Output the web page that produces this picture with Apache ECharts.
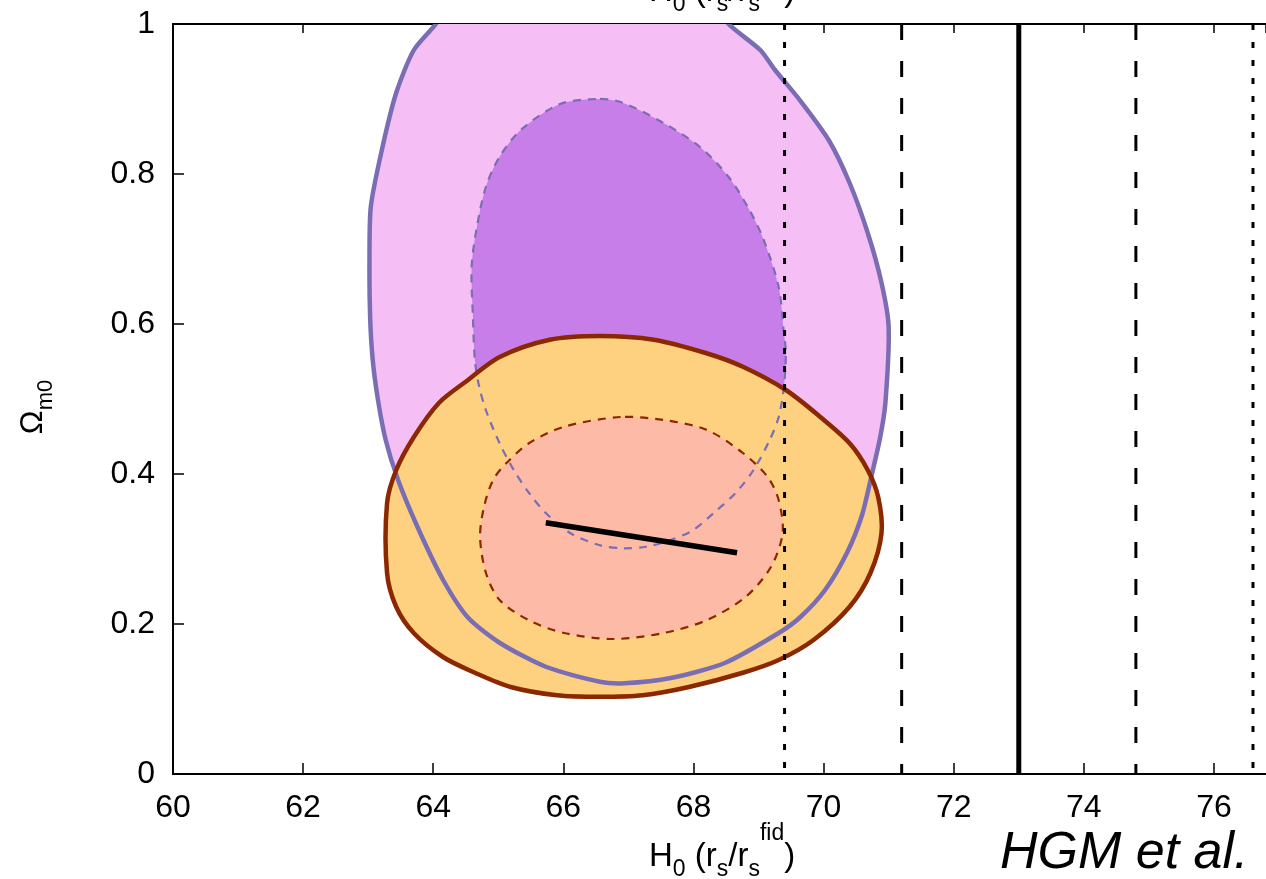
<!DOCTYPE html>
<html>
<head>
<meta charset="utf-8">
<script src="https://cdn.jsdelivr.net/npm/echarts@6/dist/echarts.min.js"></script>
<style>
  html, body { margin: 0; padding: 0; background: #ffffff; }
  #chart { width: 1266px; height: 879px; }
</style>
</head>
<body>
<div id="chart"></div>
<script>
// Axis ranges and tick steps
const H0_RANGE = [60, 76.8];
const OMEGA_RANGE = [0, 1];
const H0_STEP = 2;
const OMEGA_STEP = 0.2;

// Confidence regions, [H0, Omega_m0] pairs (the outer purple one runs past the top edge)
const purple95 = [
  [64.25, 1.030], [64.04, 1.000], [63.70, 0.965], [63.43, 0.908], [63.21, 0.832], [63.04, 0.756],
  [63.02, 0.680], [63.03, 0.609], [63.07, 0.552], [63.15, 0.499], [63.27, 0.445],
  [63.46, 0.392], [63.76, 0.329], [64.15, 0.259], [64.53, 0.209], [65.02, 0.175],
  [65.73, 0.143], [66.56, 0.123], [66.94, 0.121], [67.65, 0.128], [68.48, 0.148],
  [69.31, 0.188], [69.64, 0.209], [70.02, 0.245], [70.36, 0.295], [70.59, 0.345],
  [70.74, 0.399], [70.87, 0.449], [70.95, 0.495], [71.00, 0.596], [70.89, 0.655],
  [70.68, 0.721], [70.40, 0.788], [70.08, 0.845], [69.63, 0.899], [69.25, 0.939],
  [69.03, 0.965], [68.54, 1.000], [68.30, 1.030]
];
const purple68 = [
  [66.50, 0.900], [65.94, 0.893], [65.35, 0.859], [65.02, 0.823], [64.81, 0.783],
  [64.67, 0.729], [64.59, 0.676], [64.61, 0.609], [64.64, 0.552], [64.70, 0.519],
  [64.81, 0.485], [65.02, 0.441], [65.24, 0.405], [65.47, 0.375], [65.73, 0.348],
  [66.11, 0.321], [66.56, 0.305], [66.91, 0.301], [67.27, 0.303], [67.65, 0.312],
  [67.99, 0.325], [68.31, 0.348], [68.65, 0.375], [68.92, 0.405], [69.17, 0.445],
  [69.31, 0.476], [69.39, 0.516], [69.42, 0.561], [69.39, 0.588], [69.31, 0.649],
  [69.08, 0.712], [68.86, 0.752], [68.54, 0.796], [68.10, 0.836], [67.54, 0.868],
  [66.88, 0.896]
];
const orange95 = [
  [66.56, 0.584], [65.79, 0.579], [65.02, 0.556], [64.53, 0.525], [64.09, 0.495],
  [63.70, 0.449], [63.43, 0.405], [63.29, 0.361], [63.29, 0.268], [63.43, 0.223],
  [63.70, 0.188], [64.15, 0.156], [64.64, 0.135], [65.19, 0.116], [65.90, 0.105],
  [66.56, 0.103], [67.22, 0.105], [67.93, 0.116], [68.76, 0.135], [69.31, 0.152],
  [69.85, 0.179], [70.40, 0.223], [70.72, 0.268], [70.89, 0.321], [70.84, 0.369],
  [70.68, 0.405], [70.40, 0.441], [69.95, 0.476], [69.42, 0.512], [68.76, 0.543],
  [68.20, 0.561], [67.39, 0.579]
];
const orange68 = [
  [66.88, 0.476], [66.01, 0.463], [65.47, 0.441], [65.13, 0.415], [64.92, 0.392],
  [64.78, 0.356], [64.72, 0.316], [64.81, 0.268], [65.02, 0.232], [65.47, 0.205],
  [66.01, 0.188], [66.77, 0.180], [67.54, 0.188], [68.20, 0.205], [68.80, 0.236],
  [69.19, 0.276], [69.37, 0.321], [69.31, 0.365], [69.14, 0.396], [68.76, 0.428],
  [68.20, 0.459], [67.54, 0.472]
];

// Degeneracy segment
const segment = [[65.73, 0.335], [68.67, 0.295]];

// Local H0 measurement: central value with 1 and 2 sigma bounds
const localH0 = 73.0;
const localH0Sigma = 1.8;
const refLines = [
  { h0: localH0, style: 'solid' },
  { h0: localH0 - localH0Sigma, style: 'dashed' },
  { h0: localH0 + localH0Sigma, style: 'dashed' },
  { h0: localH0 - 2 * localH0Sigma, style: 'dotted' },
  { h0: localH0 + 2 * localH0Sigma, style: 'dotted' }
];

// Axis title pieces: text, font size, vertical offset of the piece
const h0Title = [
  { t: 'H', size: 33, dy: 0 },
  { t: '0', size: 23, dy: 13 },
  { t: ' (r', size: 33, dy: 0 },
  { t: 's', size: 23, dy: 13 },
  { t: '/r', size: 33, dy: 0 },
  { t: 's', size: 23, dy: 13 },
  { t: 'fid', size: 23, dy: -23 },
  { t: ')', size: 33, dy: 0 }
];
const creditText = 'HGM et al.';

const FONT = "'Liberation Sans', Arial, Helvetica, sans-serif";
const measureCtx = document.createElement('canvas').getContext('2d');

function composite(pieces, x0, yMid) {
  let x = x0;
  const out = [];
  pieces.forEach(function (p) {
    const font = p.size + 'px ' + FONT;
    measureCtx.font = font;
    out.push({
      type: 'text', x: x, y: yMid + p.dy, z: 10, silent: true,
      style: { text: p.t, font: font, fill: '#000', align: 'left', verticalAlign: 'middle' }
    });
    x += measureCtx.measureText(p.t).width;
  });
  return out;
}

function regionFill(points, fill, smooth, z) {
  return {
    type: 'custom', coordinateSystem: 'cartesian2d', data: points,
    encode: { x: 0, y: 1 }, z: z, silent: true, clip: true,
    renderItem: function (params, api) {
      if (params.dataIndex !== 0) return null;
      return {
        type: 'polygon',
        shape: { points: points.map(function (p) { return api.coord(p); }), smooth: smooth },
        style: { fill: fill, stroke: null }
      };
    }
  };
}

function regionEdge(points, color, width, dash, closed, smooth, z) {
  return {
    type: 'custom', coordinateSystem: 'cartesian2d', data: points,
    encode: { x: 0, y: 1 }, z: z, silent: true, clip: true,
    renderItem: function (params, api) {
      if (params.dataIndex !== 0) return null;
      const coords = points.map(function (p) { return api.coord(p); });
      return {
        type: closed ? 'polygon' : 'polyline',
        shape: { points: coords, smooth: smooth },
        style: { stroke: color, lineWidth: width, lineDash: dash, fill: null, lineJoin: 'round' }
      };
    }
  };
}

const lineKinds = {
  solid:  { width: 5, type: 'solid' },
  dashed: { width: 3, type: [16, 21] },
  dotted: { width: 3, type: [6, 12] }
};

const refSeries = refLines.map(function (r) {
  const k = lineKinds[r.style];
  return {
    type: 'line', data: [[r.h0, OMEGA_RANGE[1]], [r.h0, OMEGA_RANGE[0]]],
    symbol: 'none', silent: true, z: 6,
    lineStyle: { color: '#000000', width: k.width, type: k.type, cap: 'butt' }
  };
});

const chart = echarts.init(document.getElementById('chart'), null, { renderer: 'canvas' });
chart.setOption({
  animation: false,
  backgroundColor: '#ffffff',
  grid: { left: 173, top: 24, right: 0, bottom: 105, outerBoundsMode: 'none', containLabel: false },
  xAxis: [
    {
      type: 'value', position: 'bottom', min: H0_RANGE[0], max: H0_RANGE[1], interval: H0_STEP,
      splitLine: { show: false },
      axisLine: { show: true, onZero: false, lineStyle: { color: '#000', width: 2 } },
      axisTick: { show: true, inside: true, length: 11, lineStyle: { color: '#000', width: 1.5 } },
      axisLabel: { show: true, margin: 18, fontFamily: FONT, fontSize: 32, color: '#000', showMaxLabel: false }
    },
    {
      type: 'value', position: 'top', min: H0_RANGE[0], max: H0_RANGE[1], interval: H0_STEP,
      splitLine: { show: false },
      axisLine: { show: true, onZero: false, lineStyle: { color: '#000', width: 2 } },
      axisTick: { show: true, inside: true, length: 9, lineStyle: { color: '#000', width: 1.5 } },
      axisLabel: { show: false }
    }
  ],
  yAxis: {
    type: 'value', min: OMEGA_RANGE[0], max: OMEGA_RANGE[1], interval: OMEGA_STEP,
    splitLine: { show: false },
    axisLine: { show: true, onZero: false, lineStyle: { color: '#000', width: 2 } },
    axisTick: { show: true, inside: true, length: 11, lineStyle: { color: '#000', width: 1.5 } },
    axisLabel: {
      margin: 18, fontFamily: FONT, fontSize: 32, color: '#000',
      formatter: function (v) { return String(Math.round(v * 10) / 10); }
    },
    name: '{m|Ω}{sub|m0}', nameLocation: 'middle', nameRotate: 90, nameGap: 116,
    nameTextStyle: {
      padding: [0, 16, 0, 0],
      rich: {
        m:   { fontFamily: FONT, fontSize: 32, lineHeight: 48, verticalAlign: 'middle', color: '#000' },
        sub: { fontFamily: FONT, fontSize: 22, lineHeight: 22, verticalAlign: 'bottom', color: '#000' }
      }
    }
  },
  graphic: composite(h0Title, 649, 857)
    .concat(composite(h0Title, 649, -8))
    .concat([{
      type: 'text', left: 1000, top: 828, z: 10, silent: true,
      style: { text: creditText, font: 'italic 52px ' + FONT, fill: '#000' }
    }]),
  series: [
    regionFill(purple95, '#f5bff5', 0.25, 2),
    regionFill(purple68, '#c87ee8', 0.3, 2),
    regionFill(orange95, '#fdd180', 0.3, 2),
    regionFill(orange68, '#fdbba7', 0.3, 2),
    regionEdge(purple95, '#7b6db4', 4.5, null, false, 0.25, 3),
    regionEdge(purple68, '#7b6db4', 2.2, [8, 7], true, 0.3, 3),
    regionEdge(orange95, '#8b2800', 4.5, null, true, 0.3, 3),
    regionEdge(orange68, '#8b2800', 2.2, [8, 7], true, 0.3, 3),
    {
      type: 'line', data: segment, symbol: 'none', silent: true, z: 5,
      lineStyle: { color: '#000000', width: 5.5, cap: 'butt' }
    }
  ].concat(refSeries)
});
</script>
</body>
</html>
